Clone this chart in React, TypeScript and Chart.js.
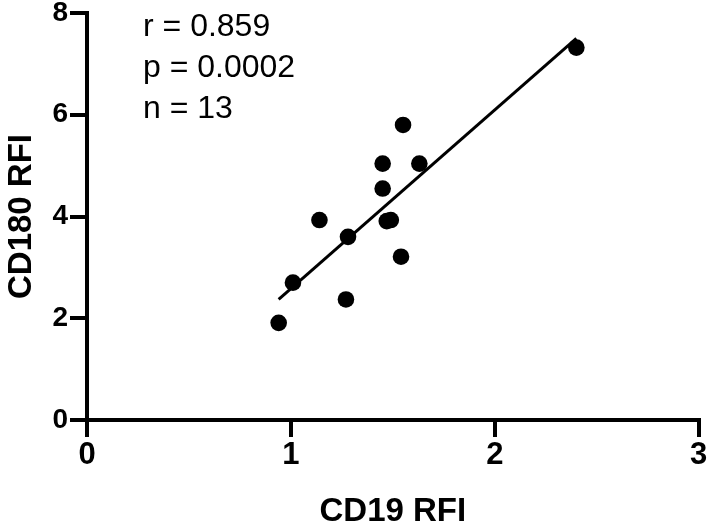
import React, { useEffect, useRef } from "react";
import { Chart, registerables } from "chart.js";

Chart.register(...registerables);

// CD19 RFI (x) and CD180 RFI (y) for the 13 samples
const cd19Values = [2.40, 1.55, 1.45, 1.63, 1.45, 1.14, 1.47, 1.49, 1.28, 1.54, 1.01, 1.27, 0.94];
const cd180Values = [7.32, 5.80, 5.04, 5.04, 4.55, 3.93, 3.91, 3.93, 3.60, 3.21, 2.70, 2.37, 1.91];

const xTickValues = [0, 1, 2, 3];
const yTickValues = [0, 2, 4, 6, 8];

const statsLines = ["r = 0.859", "p = 0.0002", "n = 13"];
const xTitle = "CD19 RFI";
const yTitle = "CD180 RFI";

function linearFit(xs: number[], ys: number[]) {
  const n = xs.length;
  const mx = xs.reduce((a, b) => a + b, 0) / n;
  const my = ys.reduce((a, b) => a + b, 0) / n;
  let sxy = 0;
  let sxx = 0;
  for (let i = 0; i < n; i++) {
    sxy += (xs[i] - mx) * (ys[i] - my);
    sxx += (xs[i] - mx) * (xs[i] - mx);
  }
  const slope = sxy / sxx;
  return { slope, intercept: my - slope * mx };
}

const FONT = '"Liberation Sans", Arial, Helvetica, sans-serif';

export default function App() {
  const ref = useRef<HTMLCanvasElement | null>(null);

  useEffect(() => {
    if (!ref.current) return;
    const fit = linearFit(cd19Values, cd180Values);
    const xMin = Math.min(...cd19Values);
    const xMax = Math.max(...cd19Values);
    const fitLine = [xMin, xMax].map((x) => ({ x, y: fit.slope * x + fit.intercept }));
    const points = cd19Values.map((x, i) => ({ x, y: cd180Values[i] }));

    const statsPlugin = {
      id: "stats",
      afterDraw(chart: any) {
        const ctx = chart.ctx;
        ctx.save();
        ctx.fillStyle = "#000";
        ctx.font = `32px ${FONT}`;
        ctx.textAlign = "left";
        ctx.textBaseline = "alphabetic";
        statsLines.forEach((t, i) => {
          ctx.fillText(t, 143, 36 + i * 41);
        });
        ctx.restore();
      },
    };

    const chart = new Chart(ref.current, {
      type: "scatter",
      data: {
        datasets: [
          {
            type: "line",
            data: fitLine,
            borderColor: "#000",
            borderWidth: 3,
            pointRadius: 0,
            fill: false,
            showLine: true,
          } as any,
          {
            data: points,
            backgroundColor: "#000",
            borderColor: "#000",
            borderWidth: 0,
            pointRadius: 8.3,
          },
        ],
      },
      options: {
        responsive: false,
        animation: false,
        layout: { padding: { top: 13, right: 7, left: 0, bottom: 0 } },
        plugins: { legend: { display: false }, tooltip: { enabled: false } },
        scales: {
          x: {
            type: "linear",
            min: 0,
            max: 3,
            afterBuildTicks: (s: any) => {
              s.ticks = xTickValues.map((v) => ({ value: v }));
            },
            afterFit: (s: any) => {
              s.height = 106;
              s.paddingLeft = 0;
              s.paddingRight = 0;
            },
            border: { display: true, color: "#000", width: 4 },
            grid: { drawOnChartArea: false, drawTicks: true, tickLength: 17, color: "#000", lineWidth: 4 },
            ticks: { color: "#000", font: { family: FONT, size: 31, weight: "bold" }, padding: 0, maxRotation: 0 },
            title: {
              display: true,
              text: xTitle,
              color: "#000",
              font: { family: FONT, size: 33, weight: "bold", lineHeight: 1 },
              padding: { top: 0, bottom: -2 },
            },
          },
          y: {
            type: "linear",
            min: 0,
            max: 8,
            afterBuildTicks: (s: any) => {
              s.ticks = yTickValues.map((v) => ({ value: v }));
            },
            afterFit: (s: any) => {
              s.width = 87;
              s.paddingTop = 0;
              s.paddingBottom = 0;
            },
            border: { display: true, color: "#000", width: 4 },
            grid: { drawOnChartArea: false, drawTicks: true, tickLength: 17, color: "#000", lineWidth: 4 },
            ticks: { color: "#000", font: { family: FONT, size: 28, weight: "bold" }, padding: 2 },
            title: {
              display: true,
              text: yTitle,
              color: "#000",
              font: { family: FONT, size: 33, weight: "bold" },
              padding: { top: 2, bottom: 4 },
            },
          },
        },
      },
      plugins: [statsPlugin],
    } as any);

    return () => chart.destroy();
  }, []);

  return (
    <div style={{ position: "fixed", left: 0, top: 0, width: 707, height: 526, background: "#fff" }}>
      <canvas ref={ref} width={707} height={526} style={{ display: "block" }} />
    </div>
  );
}
